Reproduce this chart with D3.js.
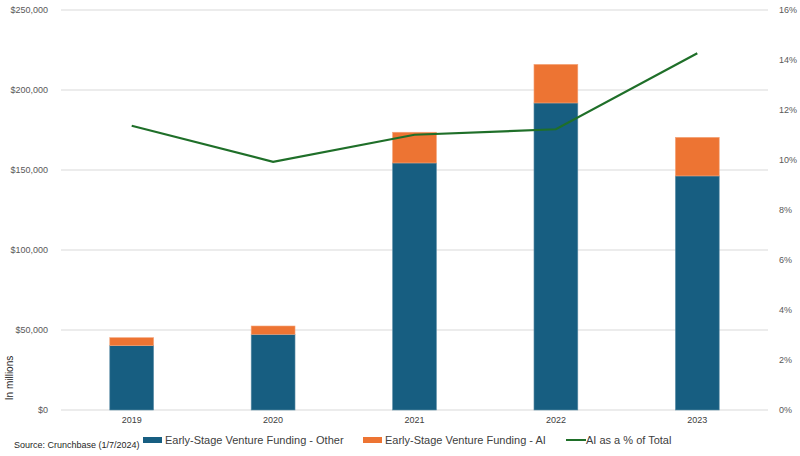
<!DOCTYPE html>
<html>
<head>
<meta charset="utf-8">
<script src="https://cdn.jsdelivr.net/npm/d3@7"></script>
<style>
  body { margin: 0; background: #fff; }
  text { font-family: "Liberation Sans", Arial, sans-serif; }
</style>
</head>
<body>
<div id="chart"></div>
<script>
const width = 800;
const height = 456;
const margin = {top: 10, right: 32, bottom: 46, left: 61};

const years = ["2019", "2020", "2021", "2022", "2023"];
const otherFunding = [40200, 47300, 154400, 191900, 146300];
const aiFunding = [5000, 5200, 19200, 24100, 24100];
const aiShare = [11.37, 9.93, 11.01, 11.23, 14.27];
const leftTicks = [0, 50000, 100000, 150000, 200000, 250000];
const rightTicks = [0, 2, 4, 6, 8, 10, 12, 14, 16];

const svg = d3.select("#chart").append("svg")
  .attr("width", width)
  .attr("height", height);

const x = d3.scaleBand().domain(years)
  .range([margin.left, width - margin.right])
  .paddingInner(0.69).paddingOuter(0.345);
const y = d3.scaleLinear().domain([0, 250000])
  .range([height - margin.bottom, margin.top]);
const y2 = d3.scaleLinear().domain([0, 16])
  .range([height - margin.bottom, margin.top]);

// gridlines
svg.append("g").selectAll("line")
  .data(leftTicks)
  .join("line")
  .attr("x1", margin.left)
  .attr("x2", width - margin.right)
  .attr("y1", d => y(d))
  .attr("y2", d => y(d))
  .attr("stroke", "#d9d9d9")
  .attr("stroke-width", 1);

// left axis
const yAxis = svg.append("g")
  .attr("transform", `translate(${margin.left - 10},0)`)
  .call(d3.axisLeft(y).tickValues(leftTicks).tickSize(0).tickFormat(d => "$" + d3.format(",")(d)));
yAxis.select(".domain").remove();
yAxis.selectAll("text").attr("fill", "#595959").style("font-size", "9px");

// right axis
const y2Axis = svg.append("g")
  .attr("transform", `translate(${width - margin.right + 8},0)`)
  .call(d3.axisRight(y2).tickValues(rightTicks).tickSize(0).tickFormat(d => d + "%"));
y2Axis.select(".domain").remove();
y2Axis.selectAll("text").attr("fill", "#595959").style("font-size", "9px");

// bottom axis
const xAxis = svg.append("g")
  .attr("transform", `translate(0,${height - margin.bottom + 4})`)
  .call(d3.axisBottom(x).tickSize(0));
xAxis.select(".domain").remove();
xAxis.selectAll("text").attr("fill", "#404040").style("font-size", "9px");

// bars
const rows = years.map((yr, i) => ({year: yr, other: otherFunding[i], ai: aiFunding[i]}));

svg.append("g").selectAll("rect")
  .data(rows)
  .join("rect")
  .attr("x", d => x(d.year))
  .attr("y", d => y(d.other))
  .attr("width", x.bandwidth())
  .attr("height", d => y(0) - y(d.other))
  .attr("fill", "#175e81")
  .attr("stroke", "#5f8fa8")
  .attr("stroke-width", 0.6);

svg.append("g").selectAll("rect")
  .data(rows)
  .join("rect")
  .attr("x", d => x(d.year))
  .attr("y", d => y(d.other + d.ai))
  .attr("width", x.bandwidth())
  .attr("height", d => y(d.other) - y(d.other + d.ai))
  .attr("fill", "#ed7433")
  .attr("stroke", "#f4a378")
  .attr("stroke-width", 0.6);

// line
svg.append("path")
  .datum(years.map((yr, i) => ({year: yr, v: aiShare[i]})))
  .attr("fill", "none")
  .attr("stroke", "#1f6f29")
  .attr("stroke-width", 2.2)
  .attr("d", d3.line().x(d => x(d.year) + x.bandwidth() / 2).y(d => y2(d.v)));

// y title
svg.append("text")
  .attr("transform", `translate(13,${y(20000)}) rotate(-90)`)
  .attr("text-anchor", "middle")
  .attr("fill", "#262626")
  .style("font-size", "10px")
  .text("In millions");

// source
svg.append("text")
  .attr("x", 14)
  .attr("y", 448)
  .attr("fill", "#262626")
  .style("font-size", "9px")
  .text("Source: Crunchbase (1/7/2024)");

// legend
const legend = [
  {label: "Early-Stage Venture Funding - Other", color: "#175e81", type: "rect", x: 143},
  {label: "Early-Stage Venture Funding - AI", color: "#ed7433", type: "rect", x: 363},
  {label: "AI as a % of Total", color: "#1f6f29", type: "line", x: 566}
];
const ly = 440;
legend.forEach(d => {
  if (d.type === "rect") {
    svg.append("rect").attr("x", d.x).attr("y", ly - 3).attr("width", 19).attr("height", 6).attr("fill", d.color);
  } else {
    svg.append("line").attr("x1", d.x).attr("x2", d.x + 20).attr("y1", ly).attr("y2", ly)
      .attr("stroke", d.color).attr("stroke-width", 2);
  }
  svg.append("text")
    .attr("x", d.x + (d.type === "rect" ? 22 : 20))
    .attr("y", ly + 4)
    .attr("fill", "#404040")
    .style("font-size", "11px")
    .text(d.label);
});
</script>
</body>
</html>
